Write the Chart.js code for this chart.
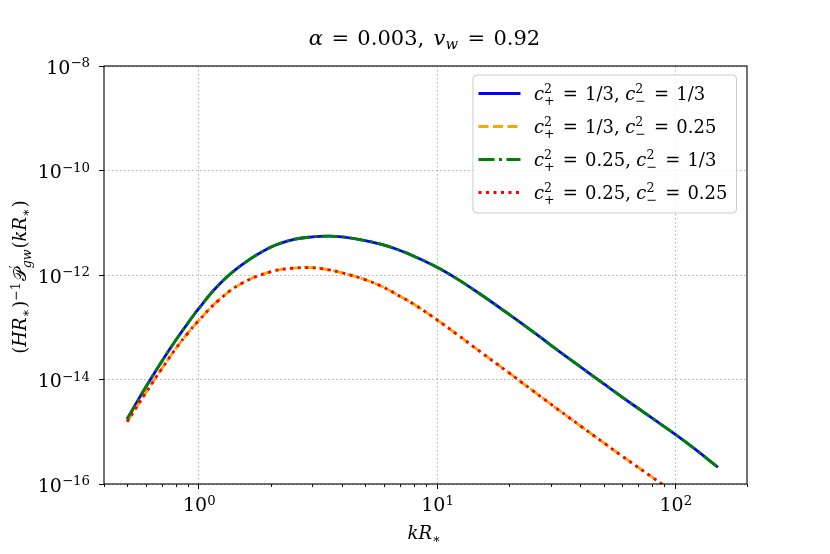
<!DOCTYPE html>
<html>
<head>
<meta charset="utf-8">
<script src="https://cdn.jsdelivr.net/npm/chart.js@4.4.0/dist/chart.umd.min.js"></script>
<style>
  html, body { margin: 0; padding: 0; background: #fff; }
  #wrap { width: 830px; height: 554px; }
</style>
</head>
<body>
<div id="wrap"><canvas id="chart" width="830" height="554"></canvas></div>
<script>
// kR* sample points (x axis)
const kR = [0.5, 0.6, 0.7, 0.8, 0.9, 1.0, 1.2, 1.5, 2.0, 2.5, 3.0, 3.5, 4.0, 5.0, 6.0, 7.0, 8.0,
  10, 12, 15, 20, 25, 30, 40, 50, 60, 80, 100, 120, 151];

// (HR*)^-1 P'_gw(kR*)
const p13_13 = [1.74e-15, 7.24e-15, 2.24e-14, 5.62e-14, 1.20e-13, 2.29e-13, 6.17e-13, 1.51e-12, 3.39e-12,
  4.79e-12, 5.37e-12, 5.56e-12, 5.37e-12, 4.57e-12, 3.72e-12, 2.95e-12, 2.29e-12,
  1.41e-12, 8.71e-13, 4.47e-13, 1.78e-13, 8.51e-14, 4.57e-14, 1.74e-14, 8.32e-15, 4.57e-15, 1.82e-15,
  8.91e-16, 4.79e-16, 2.09e-16];
const p13_025 = [1.55e-15, 5.62e-15, 1.62e-14, 3.89e-14, 7.76e-14, 1.35e-13, 3.16e-13, 6.76e-13, 1.15e-12,
  1.35e-12, 1.38e-12, 1.26e-12, 1.10e-12, 8.13e-13, 5.75e-13, 3.89e-13, 2.75e-13,
  1.38e-13, 7.59e-14, 3.55e-14, 1.35e-14, 6.31e-15, 3.39e-15, 1.29e-15, 6.17e-16, 3.39e-16, 1.35e-16,
  6.61e-17, 3.63e-17, 1.70e-17];
const p025_13 = [1.74e-15, 7.24e-15, 2.24e-14, 5.62e-14, 1.20e-13, 2.29e-13, 6.17e-13, 1.51e-12, 3.39e-12,
  4.79e-12, 5.37e-12, 5.56e-12, 5.37e-12, 4.57e-12, 3.72e-12, 2.95e-12, 2.29e-12,
  1.41e-12, 8.71e-13, 4.47e-13, 1.78e-13, 8.51e-14, 4.57e-14, 1.74e-14, 8.32e-15, 4.57e-15, 1.82e-15,
  8.91e-16, 4.79e-16, 2.09e-16];
const p025_025 = [1.55e-15, 5.62e-15, 1.62e-14, 3.89e-14, 7.76e-14, 1.35e-13, 3.16e-13, 6.76e-13, 1.15e-12,
  1.35e-12, 1.38e-12, 1.26e-12, 1.10e-12, 8.13e-13, 5.75e-13, 3.89e-13, 2.75e-13,
  1.38e-13, 7.59e-14, 3.55e-14, 1.35e-14, 6.31e-15, 3.39e-15, 1.29e-15, 6.17e-16, 3.39e-16, 1.35e-16,
  6.61e-17, 3.63e-17, 1.70e-17];

const xTicks = [0.4, 0.5, 0.6, 0.7, 0.8, 0.9, 1, 2, 3, 4, 5, 6, 7, 8, 9, 10,
  20, 30, 40, 50, 60, 70, 80, 90, 100, 200];
const yTicks = [1e-16, 1e-14, 1e-12, 1e-10, 1e-8];

// legend values: [c+^2, c-^2]
const labels = [
  ['1/3', '1/3'],
  ['1/3', '0.25'],
  ['0.25', '1/3'],
  ['0.25', '0.25'],
];

const SERIF = '"DejaVu Serif"';
const font = (px, it) => (it ? 'italic ' : '') + px + 'px ' + SERIF;

// tiny mathtext: runs of {t, it}, spaces {sp} (in em) or scripts {sup, sub}
function layout(ctx, runs, size) {
  let x = 0;
  const items = [];
  for (const r of runs) {
    if (r.sp !== undefined) {
      x += r.sp * size;
    } else if (r.sup !== undefined || r.sub !== undefined) {
      const s = size * 0.7;
      const both = r.sup !== undefined && r.sub !== undefined;
      let w = 0;
      if (r.sup !== undefined) {
        const f = font(s, r.si);
        ctx.font = f;
        w = Math.max(w, ctx.measureText(r.sup).width);
        items.push({ t: r.sup, x: x, dy: -size * (both ? 0.38 : 0.32), f: f });
      }
      if (r.sub !== undefined) {
        const f = font(s, r.bi);
        ctx.font = f;
        w = Math.max(w, ctx.measureText(r.sub).width);
        items.push({ t: r.sub, x: x, dy: size * (both ? 0.28 : 0.2), f: f });
      }
      x += w + 1;
    } else {
      const f = font(size, r.it);
      ctx.font = f;
      items.push({ t: r.t, x: x, dy: 0, f: f });
      x += ctx.measureText(r.t).width;
    }
  }
  return { items: items, width: x };
}

function drawMath(ctx, runs, size, x, y, align) {
  const L = layout(ctx, runs, size);
  const x0 = align === 'center' ? x - L.width / 2 : align === 'right' ? x - L.width : x;
  ctx.textAlign = 'left';
  ctx.textBaseline = 'alphabetic';
  ctx.fillStyle = '#000';
  for (const it of L.items) {
    ctx.font = it.f;
    ctx.fillText(it.t, x0 + it.x, y + it.dy);
  }
  return L.width;
}

const EQ = [{ sp: 0.4 }, { t: '=' }, { sp: 0.4 }];
const powRuns = (v) => {
  const e = Math.round(Math.log10(v));
  return [{ t: '10' }, { sup: (e < 0 ? '\u2212' : '') + Math.abs(e) }];
};
const legendRuns = (a, b) => [
  { t: 'c', it: true }, { sup: '2', sub: '+' }, ...EQ, { t: a + ',' }, { sp: 0.3 },
  { t: 'c', it: true }, { sup: '2', sub: '\u2212' }, ...EQ, { t: b },
];
const isDecade = (v) => Math.abs(Math.log10(v) - Math.round(Math.log10(v))) < 1e-9;

const mathPlugin = {
  id: 'mathText',
  afterDatasetsDraw(chart) {
    const ctx = chart.ctx;
    const a = chart.chartArea;
    const xs = chart.scales.x;
    ctx.save();
    // minor ticks on x
    ctx.strokeStyle = '#000';
    ctx.lineWidth = 0.9;
    for (const t of xs.ticks) {
      if (isDecade(t.value)) continue;
      const px = Math.round(xs.getPixelForValue(t.value)) + 0.5;
      ctx.beginPath();
      ctx.moveTo(px, a.bottom);
      ctx.lineTo(px, a.bottom + 3);
      ctx.stroke();
    }
    // spines
    ctx.lineWidth = 1.1;
    ctx.strokeRect(a.left, a.top, a.right - a.left, a.bottom - a.top);

    // legend
    const size = 18;
    const rowH = 33;
    let maxW = 0;
    chart.data.datasets.forEach((ds, i) => {
      maxW = Math.max(maxW, layout(ctx, legendRuns(labels[i][0], labels[i][1]), size).width);
    });
    const bw = 61 + maxW + 9;
    const bh = rowH * 4 + 6;
    const bx = a.right - 10.5 - bw;
    const by = a.top + 9;
    ctx.beginPath();
    ctx.roundRect(bx, by, bw, bh, 4);
    ctx.fillStyle = 'rgba(255,255,255,0.8)';
    ctx.fill();
    ctx.strokeStyle = '#cccccc';
    ctx.lineWidth = 1;
    ctx.stroke();
    chart.data.datasets.forEach((ds, i) => {
      const cy = by + 18.5 + i * rowH;
      ctx.save();
      ctx.strokeStyle = ds.borderColor;
      ctx.lineWidth = ds.borderWidth;
      ctx.setLineDash(ds.borderDash || []);
      ctx.beginPath();
      ctx.moveTo(bx + 5.5, cy);
      ctx.lineTo(bx + 47.5, cy);
      ctx.stroke();
      ctx.restore();
      drawMath(ctx, legendRuns(labels[i][0], labels[i][1]), size, bx + 61, cy + 6.5, 'left');
    });
    ctx.restore();
  },
  afterDraw(chart) {
    const ctx = chart.ctx;
    const a = chart.chartArea;
    const xs = chart.scales.x;
    const ys = chart.scales.y;
    const cx = (a.left + a.right) / 2;
    ctx.save();
    // tick labels
    for (const t of xs.ticks) {
      if (!isDecade(t.value)) continue;
      drawMath(ctx, powRuns(t.value), 19, xs.getPixelForValue(t.value) + 1, a.bottom + 27, 'center');
    }
    for (const t of ys.ticks) {
      drawMath(ctx, powRuns(t.value), 19, a.left - 13, ys.getPixelForValue(t.value) + 7.5, 'right');
    }
    // title
    drawMath(ctx, [
      { t: '\u03b1', it: true }, ...EQ, { t: '0.003,' }, { sp: 0.45 },
      { t: 'v', it: true }, { sub: 'w', bi: true }, ...EQ, { t: '0.92' },
    ], 21, cx - 1, 45, 'center');
    // x label
    drawMath(ctx, [{ t: 'kR', it: true }, { sub: '\u2217' }], 18, cx - 1, 539, 'center');
    // y label
    ctx.translate(26, (a.top + a.bottom) / 2 + 2);
    ctx.rotate(-Math.PI / 2);
    drawMath(ctx, [
      { t: '(' }, { t: 'HR', it: true }, { sub: '\u2217' }, { t: ')' }, { sup: '\u22121' },
      { t: '\ud835\udcab' }, { sup: '\u2032', sub: 'gw', bi: true },
      { t: '(' }, { t: 'kR', it: true }, { sub: '\u2217' }, { t: ')' },
    ], 18, 0, 0, 'center');
    ctx.restore();
  },
};

const toPoints = (arr) => kR.map((k, i) => ({ x: k, y: arr[i] }));

const gridColor = (ctx) => (ctx.tick && isDecade(ctx.tick.value) ? '#b0b0b0' : 'rgba(0,0,0,0)');
const tickColor = (ctx) => (ctx.tick && isDecade(ctx.tick.value) ? '#000' : 'rgba(0,0,0,0)');

new Chart(document.getElementById('chart'), {
  type: 'line',
  data: {
    datasets: [
      { label: 'c+^2 = 1/3, c-^2 = 1/3', data: toPoints(p13_13), borderColor: '#0000ff', borderWidth: 2.8, borderDash: [], order: 4 },
      { label: 'c+^2 = 1/3, c-^2 = 0.25', data: toPoints(p13_025), borderColor: '#ffa500', borderWidth: 2.8, borderDash: [10, 4.5], order: 3 },
      { label: 'c+^2 = 0.25, c-^2 = 1/3', data: toPoints(p025_13), borderColor: '#008000', borderWidth: 2.8, borderDash: [16, 4.5, 3, 4.5], order: 2 },
      { label: 'c+^2 = 0.25, c-^2 = 0.25', data: toPoints(p025_025), borderColor: '#ff0000', borderWidth: 2.8, borderDash: [3, 4.5], order: 1 },
    ],
  },
  options: {
    responsive: false,
    animation: false,
    parsing: false,
    elements: {
      point: { radius: 0 },
      line: { tension: 0.4, borderCapStyle: 'butt', fill: false },
    },
    layout: { padding: { top: 66, right: 83, left: 0, bottom: 0 } },
    plugins: {
      legend: { display: false },
      title: { display: false },
      tooltip: { enabled: false },
    },
    scales: {
      x: {
        type: 'logarithmic',
        min: 0.4,
        max: 200,
        bounds: 'data',
        afterBuildTicks: (scale) => { scale.ticks = xTicks.map((v) => ({ value: v })); },
        afterFit: (scale) => { scale.height = 70; },
        ticks: { display: false, autoSkip: false },
        grid: { color: gridColor, lineWidth: 1, drawTicks: true, tickLength: 5, tickColor: tickColor, tickWidth: 1 },
        border: { display: false, dash: [1.5, 2.5] },
      },
      y: {
        type: 'logarithmic',
        min: 1e-16,
        max: 1e-8,
        bounds: 'data',
        afterBuildTicks: (scale) => { scale.ticks = yTicks.map((v) => ({ value: v })); },
        afterFit: (scale) => { scale.width = 104; },
        ticks: { display: false, autoSkip: false },
        grid: { color: '#b0b0b0', lineWidth: 1, drawTicks: true, tickLength: 5, tickColor: '#000', tickWidth: 1 },
        border: { display: false, dash: [1.5, 2.5] },
      },
    },
  },
  plugins: [mathPlugin],
});
</script>
</body>
</html>
